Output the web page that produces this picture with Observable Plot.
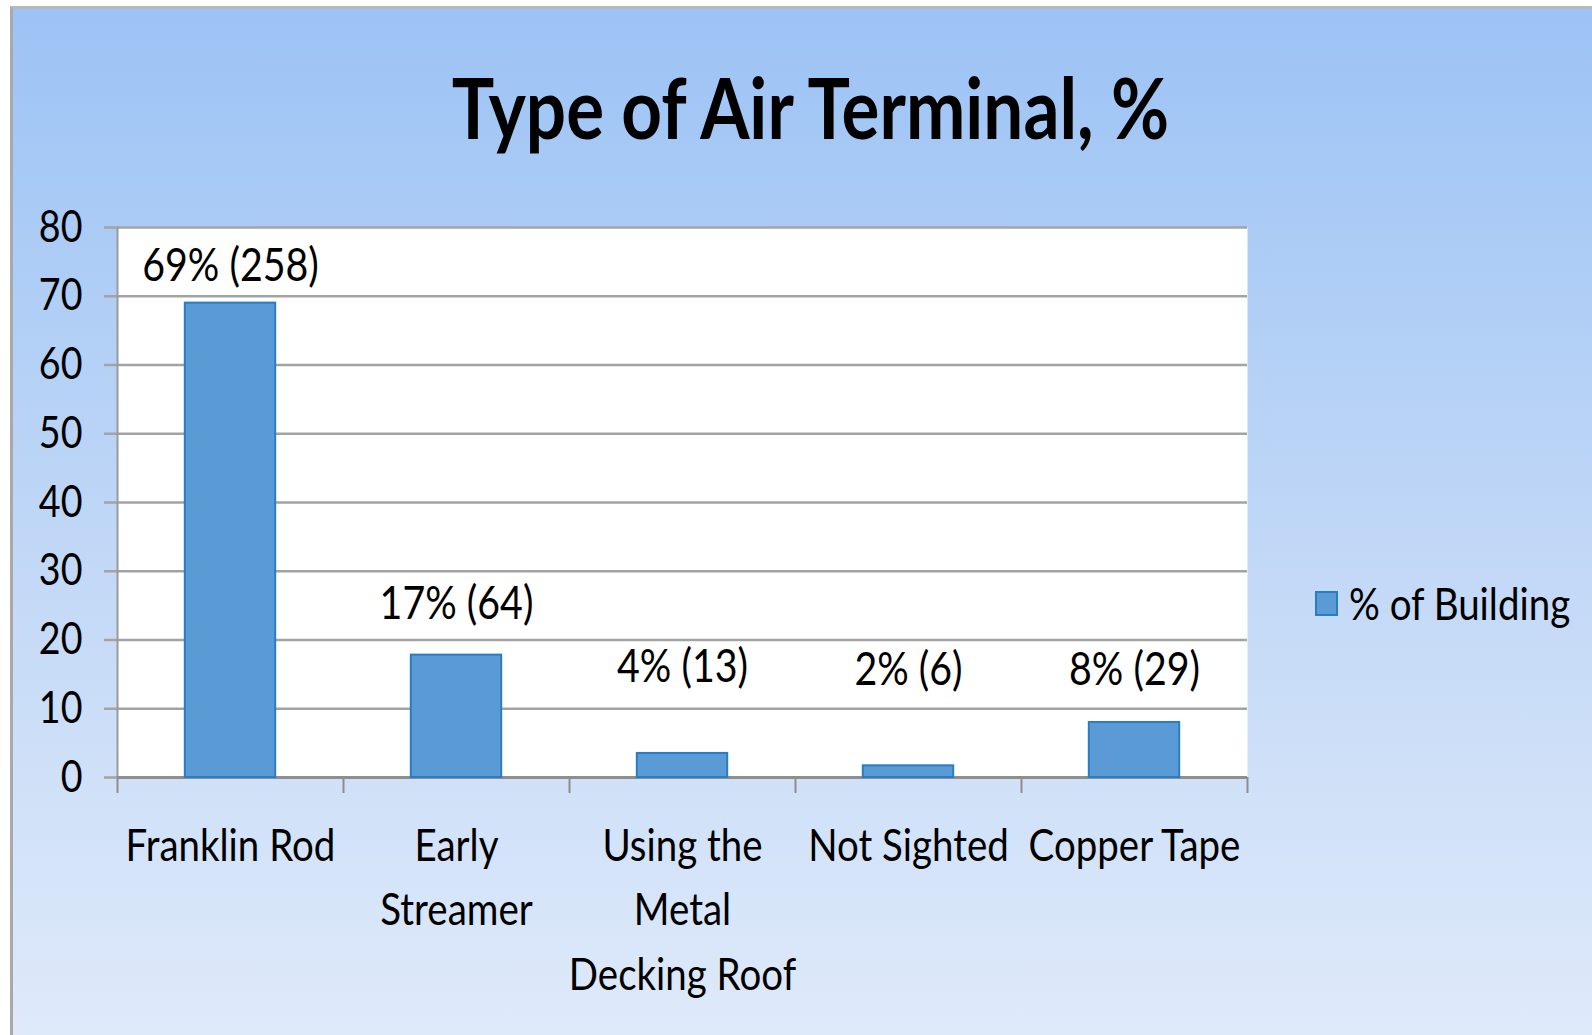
<!DOCTYPE html>
<html><head><meta charset="utf-8">
<script src="https://cdn.jsdelivr.net/npm/d3@7"></script>
<script src="https://cdn.jsdelivr.net/npm/@observablehq/plot@0.6"></script>
<style>
html,body{margin:0;padding:0;background:#fff;}
#wrap{position:relative;width:1592px;height:1035px;overflow:hidden;font-family:Lato,"Open Sans",sans-serif;color:#000;}
#bg{position:absolute;left:10px;top:6px;width:1600px;height:1100px;border-left:3px solid #a9a9a9;border-top:3px solid #b8b8b8;background:linear-gradient(to bottom,#9cc3f5 0px,#c5daf7 600px,#dfeafa 1029px);}
#title{position:absolute;left:0;width:1620px;top:62px;height:90px;line-height:90px;text-align:center;white-space:nowrap;}
#title span{display:inline-block;font-weight:bold;font-size:84px;transform:scaleX(0.845);transform-origin:center;}
#legend{position:absolute;left:1315px;top:583px;height:40px;display:flex;align-items:center;white-space:nowrap;}
#legend .sw{width:19px;height:21px;background:#5b9bd5;border:2px solid #2a7cc7;margin-right:11px;flex:none;}
#legend span{display:inline-block;font-size:45px;transform:scaleX(0.855);transform-origin:left center;}
#chart{position:absolute;left:0;top:160px;}
</style></head>
<body>
<div id="wrap">
  <div id="bg"></div>
  <div id="title"><span id="titletext"></span></div>
  <div id="chart"></div>
  <div id="legend"><div class="sw"></div><span id="legtext"></span></div>
</div>
<script>
const chartTitle = "Type of Air Terminal, %";
const seriesName = "% of Building";
const categories = ["Franklin Rod", "Early Streamer", "Using the Metal Decking Roof", "Not Sighted", "Copper Tape"];
const tickLabels = ["Franklin Rod", "Early\nStreamer", "Using the\nMetal\nDecking Roof", "Not Sighted", "Copper Tape"];
const percentValues = [69, 17.8, 3.5, 1.7, 8.0];
const valueLabels = ["69% (258)", "17% (64)", "4% (13)", "2% (6)", "8% (29)"];
const labelY = [74.3, 25.2, 16.1, 15.6, 15.6];
const yTicks = [0, 10, 20, 30, 40, 50, 60, 70, 80];
const boundaryTicks = [0, 1, 2, 3, 4, 5];

document.getElementById("titletext").textContent = chartTitle;
document.getElementById("legtext").textContent = seriesName;

const data = categories.map((c, i) => ({i, category: c, tick: tickLabels[i], value: percentValues[i], label: valueLabels[i], ly: labelY[i]}));

const font = 'Lato,"Open Sans",sans-serif';
const grid = "#a3a3a3";

const plot = Plot.plot({
  width: 1592,
  height: 875,
  marginLeft: 117,
  marginRight: 345,
  marginTop: 67,
  marginBottom: 258,
  x: {domain: [0, categories.length]},
  y: {domain: [0, 80]},
  style: {background: "transparent", fontFamily: font, color: "#000", overflow: "visible"},
  marks: [
    Plot.frame({fill: "white", stroke: null}),
    Plot.ruleY(yTicks.filter(t => t > 0), {stroke: grid, strokeWidth: 2.5}),
    Plot.axisY({ticks: yTicks, tickSize: 13, tickPadding: 22, fontSize: 44, stroke: grid, strokeWidth: 2.5, fill: "#000", label: null}),
    Plot.axisX({ticks: boundaryTicks, tickSize: 16, tickFormat: () => "", stroke: "#8e8e8e", strokeWidth: 2, label: null}),
    Plot.ruleX([0], {y1: 0, y2: 80, stroke: "#9a9a9a", strokeWidth: 2}),
    Plot.ruleY([0], {stroke: "#8e8e8e", strokeWidth: 3}),
    Plot.rectY(data, {x1: d => d.i + 0.3, x2: d => d.i + 0.7, y1: 0, y2: "value", fill: "#5b9bd5", stroke: "#2a7cc7", strokeWidth: 2}),
    Plot.text(data, {x: d => d.i + 0.5, y: "ly", text: "label", fontSize: 46, fill: "#000"}),
    Plot.text(data, {x: d => d.i + 0.5, y: 0, text: "tick", lineAnchor: "top", dy: 37, fontSize: 45, lineHeight: 1.44, fill: "#000"})
  ]
});
// condense glyphs horizontally around each text's own anchor
plot.querySelectorAll("text").forEach(t => {
  const x = +(t.getAttribute("x") || 0);
  const tr = t.getAttribute("transform") || "";
  t.setAttribute("transform", `${tr} translate(${x},0) scale(0.855,1) translate(${-x},0)`);
});
document.getElementById("chart").appendChild(plot);
</script>
</body></html>
